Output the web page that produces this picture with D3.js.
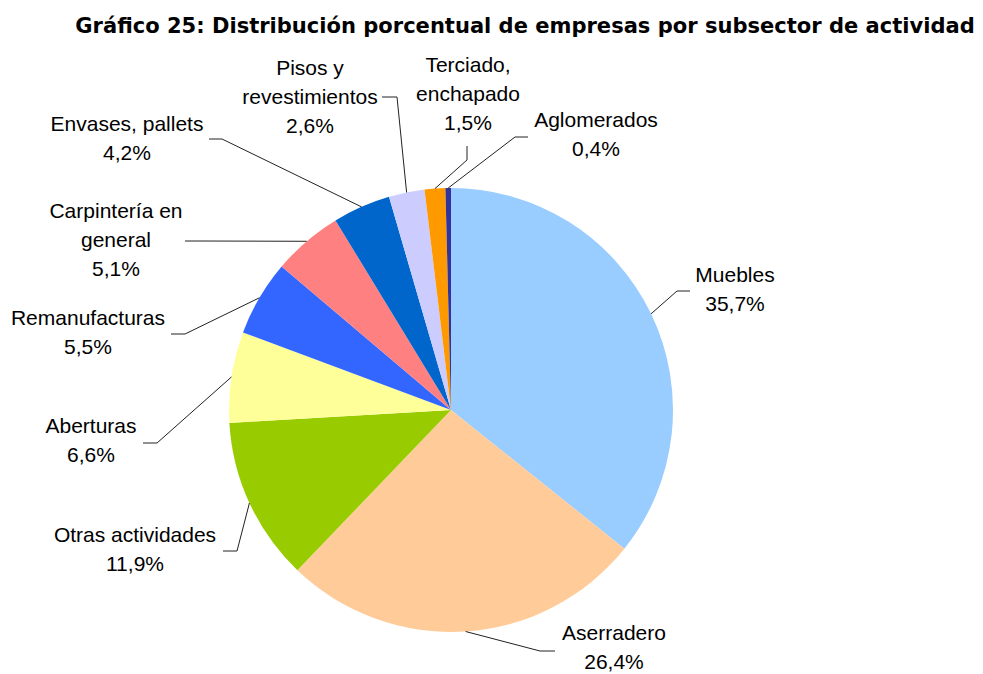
<!DOCTYPE html>
<html>
<head>
<meta charset="utf-8">
<script src="https://cdn.jsdelivr.net/npm/d3@7"></script>
<style>
  body { margin: 0; background: #fff; }
  svg { display: block; }
</style>
</head>
<body>
<svg id="chart"></svg>
<script>

var titulo = "Gráfico 25: Distribución porcentual de empresas por subsector de actividad"

// subsectores, en el orden del grafico (desde arriba, sentido horario)
var categorias = ["Muebles", "Aserradero", "Otras actividades", "Aberturas", "Remanufacturas",
                  "Carpintería en general", "Envases, pallets", "Pisos y revestimientos",
                  "Terciado, enchapado", "Aglomerados"]
var porcentajes = [35.7, 26.4, 11.9, 6.6, 5.5, 5.1, 4.2, 2.6, 1.5, 0.4]
var colores = ["#99ccff", "#ffcc99", "#99cc00", "#ffff99", "#3366ff",
               "#ff8080", "#0066cc", "#ccccff", "#ff9900", "#333399"]

// como se parte cada etiqueta en renglones
var renglones = [["Muebles"], ["Aserradero"], ["Otras actividades"], ["Aberturas"], ["Remanufacturas"],
                 ["Carpintería en", "general"], ["Envases, pallets"], ["Pisos y", "revestimientos"],
                 ["Terciado,", "enchapado"], ["Aglomerados"]]

var width = 983, height = 674
var cx = 451, cy = 410, radio = 222
var interlinea = 29

// centro x y linea base del primer renglon de cada etiqueta
var posEtiqueta = [[735, 282], [614, 640], [135, 542], [91, 433], [88, 325],
                   [116, 218], [127, 131], [310, 75], [468, 72], [596, 127]]
// codo y final de cada linea guia
var codos = [[677, 291, 690, 291], [540, 651, 555, 651], [237, 551, 223, 551],
             [157, 443, 143, 443], [185, 334, 171, 334], [200, 241, 185, 241],
             [222, 139, 209, 139], [397, 97, 382, 97], [467, 160, 467, 146],
             [515, 137, 528, 137]]

var fmt = d3.format(".1f")

var svg = d3.select("#chart")
    .attr("width", width)
    .attr("height", height)

//title, squeezed horizontally to the width of the original
var tg = svg.append("g")
var t = tg.append("text")
    .attr("x", 0)
    .attr("y", 0)
    .attr("text-anchor", "middle")
    .style("font-family", "'DejaVu Sans', Verdana, sans-serif")
    .style("font-weight", "bold")
    .style("font-size", "22px")
    .text(titulo)
var escala = 900 / t.node().getComputedTextLength()
tg.attr("transform", "translate(525,33) scale(" + escala + ",1)")

var pie = d3.pie().sort(null).value(d => d)
var arc = d3.arc().innerRadius(0).outerRadius(radio)
var arcos = pie(porcentajes)

var g = svg.append("g").attr("transform", "translate(" + cx + "," + cy + ")")

g.selectAll("path.slice")
    .data(arcos).enter()
    .append("path")
    .attr("class", "slice")
    .attr("d", arc)
    .attr("fill", (d, i) => colores[i])

//leader lines
svg.selectAll("polyline.guia")
    .data(arcos).enter()
    .append("polyline")
    .attr("class", "guia")
    .attr("points", (d, i) => {
        var a = (d.startAngle + d.endAngle) / 2
        var x0 = cx + radio * Math.sin(a)
        var y0 = cy - radio * Math.cos(a)
        var c = codos[i]
        return [[x0, y0], [c[0], c[1]], [c[2], c[3]]].map(p => p.join(",")).join(" ")
    })
    .attr("fill", "none")
    .style("stroke", "#222")
    .style("stroke-width", "1px")

//labels
var etiquetas = svg.selectAll("text.etiqueta")
    .data(categorias).enter()
    .append("text")
    .attr("class", "etiqueta")
    .attr("text-anchor", "middle")
    .style("font-family", "'Liberation Sans', Arial, sans-serif")
    .style("font-size", "21px")
    .style("fill", "#000")

etiquetas.each(function(d, i) {
    var lineas = renglones[i].concat([fmt(porcentajes[i]).replace(".", ",") + "%"])
    d3.select(this).selectAll("tspan")
        .data(lineas).enter()
        .append("tspan")
        .attr("x", posEtiqueta[i][0])
        .attr("y", (l, j) => posEtiqueta[i][1] + j * interlinea)
        .text(l => l)
})

</script>
</body>
</html>
